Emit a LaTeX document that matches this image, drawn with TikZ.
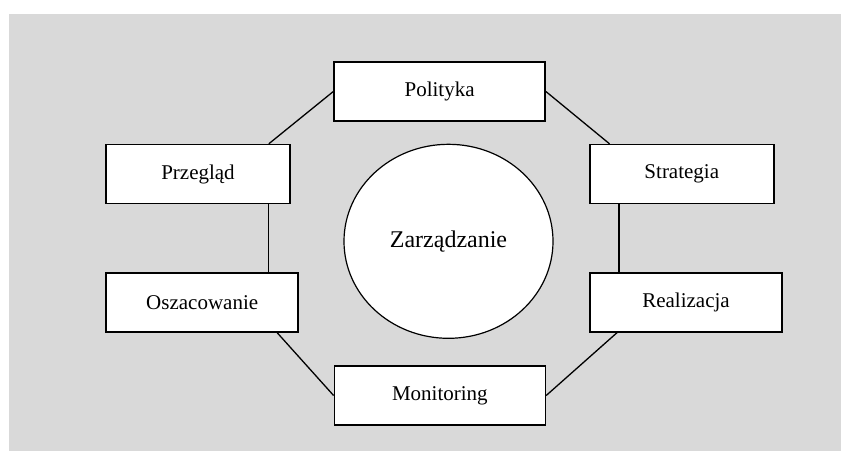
\documentclass[tikz,border=0pt]{standalone}
\usepackage{fontspec}
\setmainfont{Liberation Serif}
\usetikzlibrary{shapes.geometric}
\definecolor{bggray}{RGB}{217,217,217}
\tikzset{
  box/.style={draw=black, fill=white, line width=1.6pt, inner sep=0pt, minimum height=59pt, font=\fontsize{21}{25}\selectfont},
  hub/.style={draw=black, fill=white, ellipse, line width=1.2pt, inner sep=0pt, minimum width=209pt, minimum height=194pt, font=\fontsize{24}{28}\selectfont},
  link/.style={draw=black, line width=1.3pt}
}
\begin{document}
\begin{tikzpicture}[x=1pt,y=-1pt]
\useasboundingbox (0,0) rectangle (841,451);
\fill[bggray] (9,14) rectangle (841,451);
\node[box, minimum width=211pt] (pol) at (439.6,91.5) {Polityka};
\node[box, minimum width=184pt] (prz) at (198,174.1) {Przegląd};
\node[box, minimum width=192pt] (osz) at (202.2,302.2) {Oszacowanie};
\node[box, minimum width=184pt] (str) at (681.8,174.1) {Strategia};
\node[box, minimum width=192pt] (rea) at (686,302.2) {Realizacja};
\node[box, minimum width=211pt] (mon) at (439.9,395.5) {Monitoring};
\node[hub] (zar) at (448.5,241.3) {Zarządzanie};
\coordinate (a1) at ([xshift=-22pt]prz.north east);
\coordinate (a2) at ([xshift=-22pt]prz.south east);
\coordinate (b1) at ([xshift=20.5pt]str.north west);
\coordinate (b2) at ([xshift=30pt]str.south west);
\coordinate (c1) at ([xshift=-22pt]osz.south east);
\coordinate (d1) at ([xshift=28pt]rea.south west);
\draw[link] (pol.west) -- (a1);
\draw[link] (pol.east) -- (b1);
\draw[link] (a2) -- (a2 |- osz.north);
\draw[link] (b2) -- (b2 |- rea.north);
\draw[link] (c1) -- (mon.west);
\draw[link] (d1) -- (mon.east);
\end{tikzpicture}
\end{document}
